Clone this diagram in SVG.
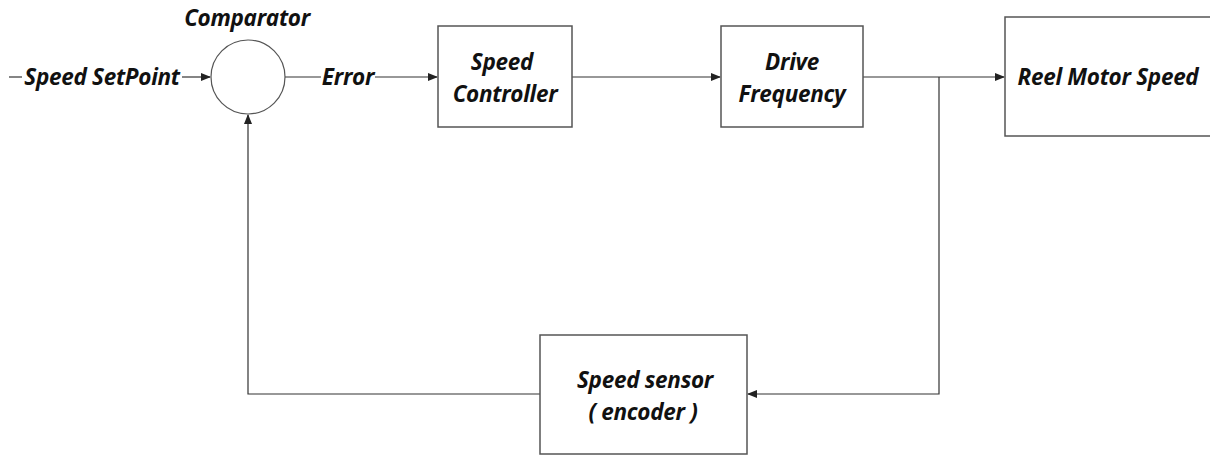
<svg xmlns="http://www.w3.org/2000/svg" width="1210" height="455" viewBox="0 0 1210 455">
<defs>
<marker id="arr" markerWidth="10" markerHeight="8" refX="9" refY="4" orient="auto" markerUnits="userSpaceOnUse">
<path d="M0,0 L10,4 L0,8 Z" fill="#222"/>
</marker>
<style>
.box{fill:#fff;stroke:#555;stroke-width:1.5}
.ln{fill:none;stroke:#333;stroke-width:1.2}
.t{font-family:"Open Sans","Liberation Sans",sans-serif;font-weight:bold;font-style:italic;font-size:22.5px;fill:#111;text-anchor:middle;letter-spacing:-0.3px}
</style>
</defs>
<rect width="1210" height="455" fill="#fff"/>
<g id="connectors">
<line class="ln" x1="9" y1="77" x2="22" y2="77"/>
<line class="ln" x1="182" y1="77" x2="210" y2="77" marker-end="url(#arr)"/>
<line class="ln" x1="285" y1="77" x2="321" y2="77"/>
<line class="ln" x1="375" y1="77" x2="437" y2="77" marker-end="url(#arr)"/>
<line class="ln" x1="572" y1="77" x2="720" y2="77" marker-end="url(#arr)"/>
<line class="ln" x1="863" y1="77" x2="1004" y2="77" marker-end="url(#arr)"/>
<polyline class="ln" points="939,77 939,394 748,394" marker-end="url(#arr)"/>
<polyline class="ln" points="540,394 248,394 248,115" marker-end="url(#arr)"/>
</g>
<g id="input-label"><text class="t" x="102" y="85">Speed SetPoint</text></g>
<g id="comparator">
<circle cx="248" cy="77" r="37" fill="#fff" stroke="#555" stroke-width="1.2"/>
<text class="t" x="247" y="26">Comparator</text>
</g>
<g id="error-label"><text class="t" x="348" y="85">Error</text></g>
<g id="speed-controller">
<rect class="box" x="438" y="26" width="134" height="101"/>
<text class="t" x="502" y="70">Speed</text>
<text class="t" x="505" y="102">Controller</text>
</g>
<g id="drive-frequency">
<rect class="box" x="721" y="26" width="142" height="101"/>
<text class="t" x="792" y="70">Drive</text>
<text class="t" x="792" y="102">Frequency</text>
</g>
<g id="reel-motor-speed">
<rect class="box" x="1005" y="17" width="215" height="119"/>
<text class="t" x="1108" y="85">Reel Motor Speed</text>
</g>
<g id="speed-sensor">
<rect class="box" x="540" y="335" width="207" height="119"/>
<text class="t" x="645" y="388">Speed sensor</text>
<text class="t" x="643" y="420">( encoder )</text>
</g>
</svg>
